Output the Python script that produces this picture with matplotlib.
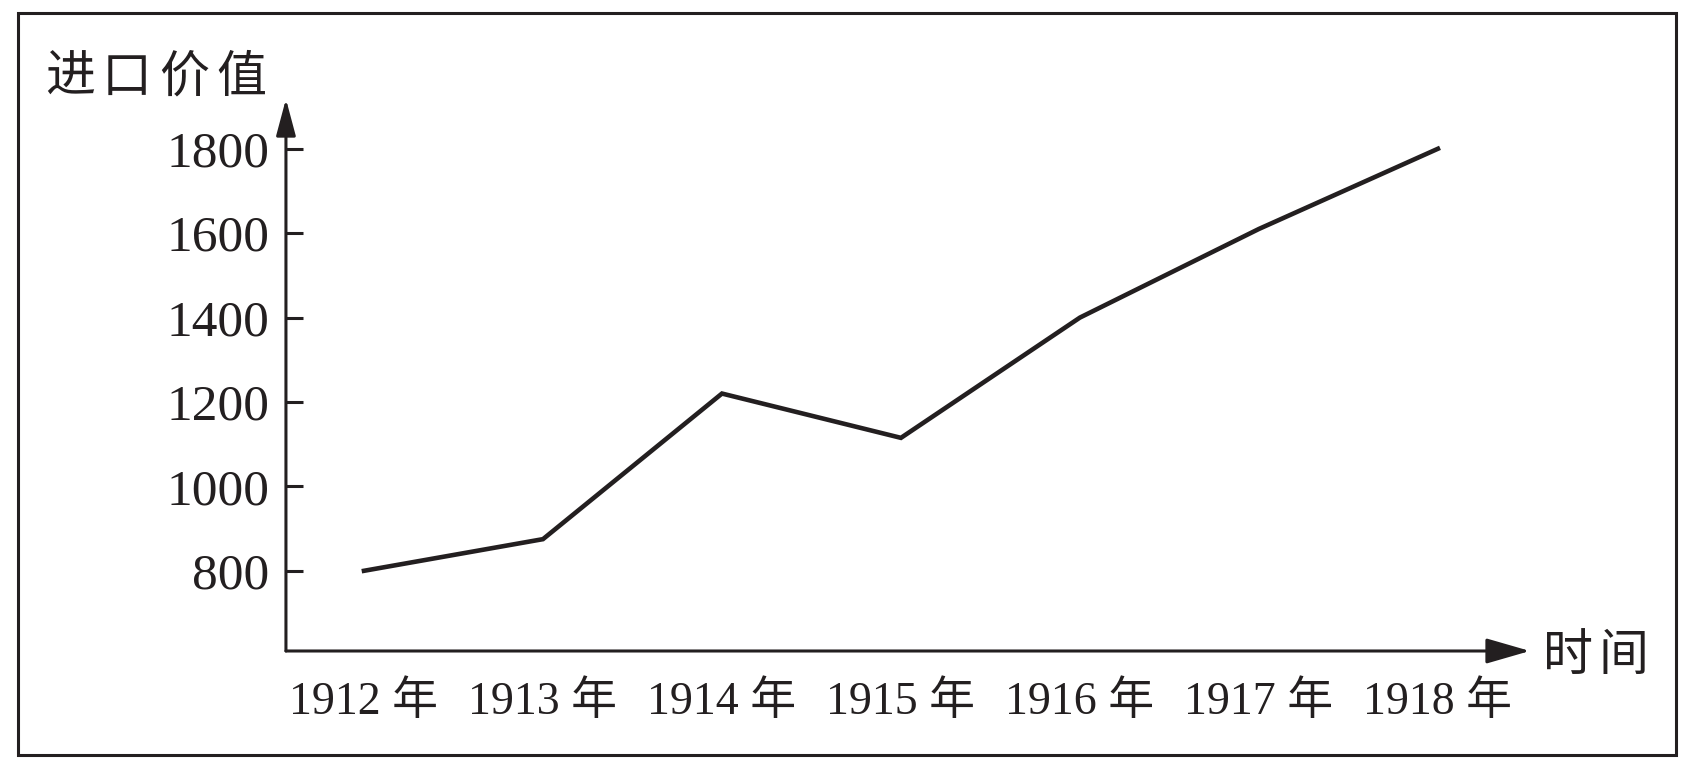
import matplotlib.pyplot as plt
import matplotlib.patches as patches

years = ['1912', '1913', '1914', '1915', '1916', '1917', '1918']
values = [800, 875, 1220, 1115, 1400, 1610, 1800]
y_ticks = [800, 1000, 1200, 1400, 1600, 1800]
x_labels = [y + ' 年' for y in years]

plt.rcParams['font.family'] = ['Liberation Serif', 'Noto Sans CJK SC']
ink = '#231f20'

fig = plt.figure(figsize=(16.92, 7.63), dpi=100)
ax = fig.add_axes([0.169, 0.1468, 0.7352, 0.7235])

x = list(range(len(years)))
ax.plot(x, values, color=ink, lw=3.3, solid_joinstyle='miter')

ax.set_xlim(-0.436, 6.514)
ax.set_ylim(610, 1918)

ax.set_xticks(x)
ax.set_xticklabels(x_labels, fontsize=33, color=ink)
ax.tick_params(axis='x', length=0, pad=22)
ax.set_yticks(y_ticks)
ax.set_yticklabels([str(v) for v in y_ticks], fontsize=37, color=ink)
ax.tick_params(axis='y', direction='in', length=12, width=2.2, pad=12, color=ink)

for s in ax.spines.values():
    s.set_visible(False)

# axes drawn as arrows
ax.annotate('', xy=(1, 0), xytext=(0, 0), xycoords='axes fraction',
            arrowprops=dict(arrowstyle='-|>,head_length=0.9,head_width=0.26',
                            mutation_scale=30, lw=2.2, color=ink,
                            shrinkA=0, shrinkB=0))
ax.annotate('', xy=(0, 1), xytext=(0, 0), xycoords='axes fraction',
            arrowprops=dict(arrowstyle='-|>,head_length=0.75,head_width=0.2',
                            mutation_scale=30, lw=2.2, color=ink,
                            shrinkA=0, shrinkB=0))

# axis titles, one character at a time to get the wide spacing
for i, ch in enumerate('进口价值'):
    fig.text((45 + i * 57) / 1692, 1 - 78 / 763, ch, fontsize=36, ha='left',
             va='center', color=ink, family=['Noto Sans CJK SC'])
for i, ch in enumerate('时间'):
    fig.text((1543 + i * 55) / 1692, 1 - 656 / 763, ch, fontsize=36, ha='left',
             va='center', color=ink, family=['Noto Sans CJK SC'])

# outer frame
fig.add_artist(patches.Rectangle((18 / 1692, 8 / 763), 1658 / 1692, 742 / 763,
                                 transform=fig.transFigure, fill=False,
                                 lw=2.2, edgecolor=ink))

fig.savefig('out.png', dpi=100)
